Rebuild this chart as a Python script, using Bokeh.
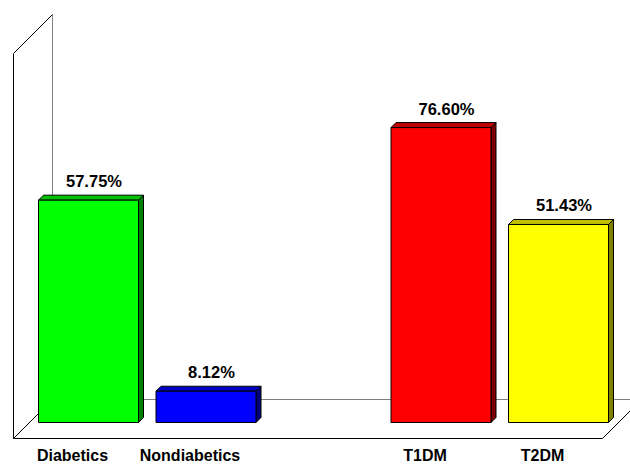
from bokeh.plotting import figure
from bokeh.models import Range1d
from bokeh.core.properties import value
from bokeh.embed import file_html
from bokeh.resources import INLINE

# ---- data ----
groups = [["Diabetics", "Nondiabetics"], ["T1DM", "T2DM"]]
values = [57.75, 8.12, 76.60, 51.43]
labels = ["57.75%", "8.12%", "76.60%", "51.43%"]
front_colors = ["#00FF00", "#0000FF", "#FF0000", "#FFFF00"]
top_colors = ["#00C000", "#0000C0", "#C00000", "#C0C000"]
side_colors = ["#008000", "#000080", "#800000", "#808000"]

# ---- layout (pixel units horizontally, value units vertically) ----
W, H = 630, 464
K = 3.85            # px per percent
BASE = 42           # px of baseline above bottom
x0, pitch, bw = 88, 117.5, 100
DX, DY = 5, 5 / K   # bar depth

def ypx(px_from_top):
    return (422 - px_from_top) / K

p = figure(width=W, height=H, x_range=Range1d(0, W),
           y_range=Range1d(-BASE / K, (H - BASE) / K),
           min_border=0, toolbar_location=None, output_backend="svg",
           x_axis_type=None, y_axis_type=None)
p.grid.visible = False
p.outline_line_color = None
p.background_fill_color = "white"
p.border_fill_color = "white"

# positions: groups separated by one empty slot
cats, xs = [], []
slot = 0
for gi, g in enumerate(groups):
    for c in g:
        cats.append(c)
        xs.append(x0 + slot * pitch)
        slot += 1
    slot += 1

# ---- walls / floor ----
yf, yb = ypx(438), ypx(399)
wall = 100
p.line([13, 13], [yf, yf + wall], line_color="black", line_width=1)
p.line([13, 52], [yf + wall, yb + wall], line_color="black", line_width=1)
p.line([52, 52], [yb, yb + wall], line_color="#808080", line_width=1)
p.line([52, 680], [yb, yb], line_color="#808080", line_width=1)
p.line([13, 52], [yf, yb], line_color="black", line_width=1)
p.line([13, 602, 641], [yf, yf, yb], line_color="black", line_width=1)

# ---- bars ----
for x, v, fc, tc, sc in zip(xs, values, front_colors, top_colors, side_colors):
    L, R = x - bw / 2, x + bw / 2
    p.patch([R, R + DX, R + DX, R], [0, DY, v + DY, v],
            fill_color=sc, line_color="black", line_width=1)
    p.patch([L, L + DX, R + DX, R], [v, v + DY, v + DY, v],
            fill_color=tc, line_color="black", line_width=1)
    p.quad(left=L, right=R, bottom=0, top=v,
           fill_color=fc, line_color="black", line_width=1)

# ---- text ----
p.text(x=[x + 5.5 for x in xs], y=[v + DY + 14 / K for v in values], text=labels,
       text_font=value("Liberation Sans"), text_font_style="bold",
       text_font_size="16.5px", text_align="center", text_baseline="alphabetic",
       text_color="black")
p.text(x=[x - 16 for x in xs], y=[ypx(455)] * len(xs), text=cats,
       text_font=value("Liberation Sans"), text_font_style="bold",
       text_font_size="16px", text_align="center", text_baseline="middle",
       text_color="black")

open("out.html", "w").write(file_html(p, INLINE))
